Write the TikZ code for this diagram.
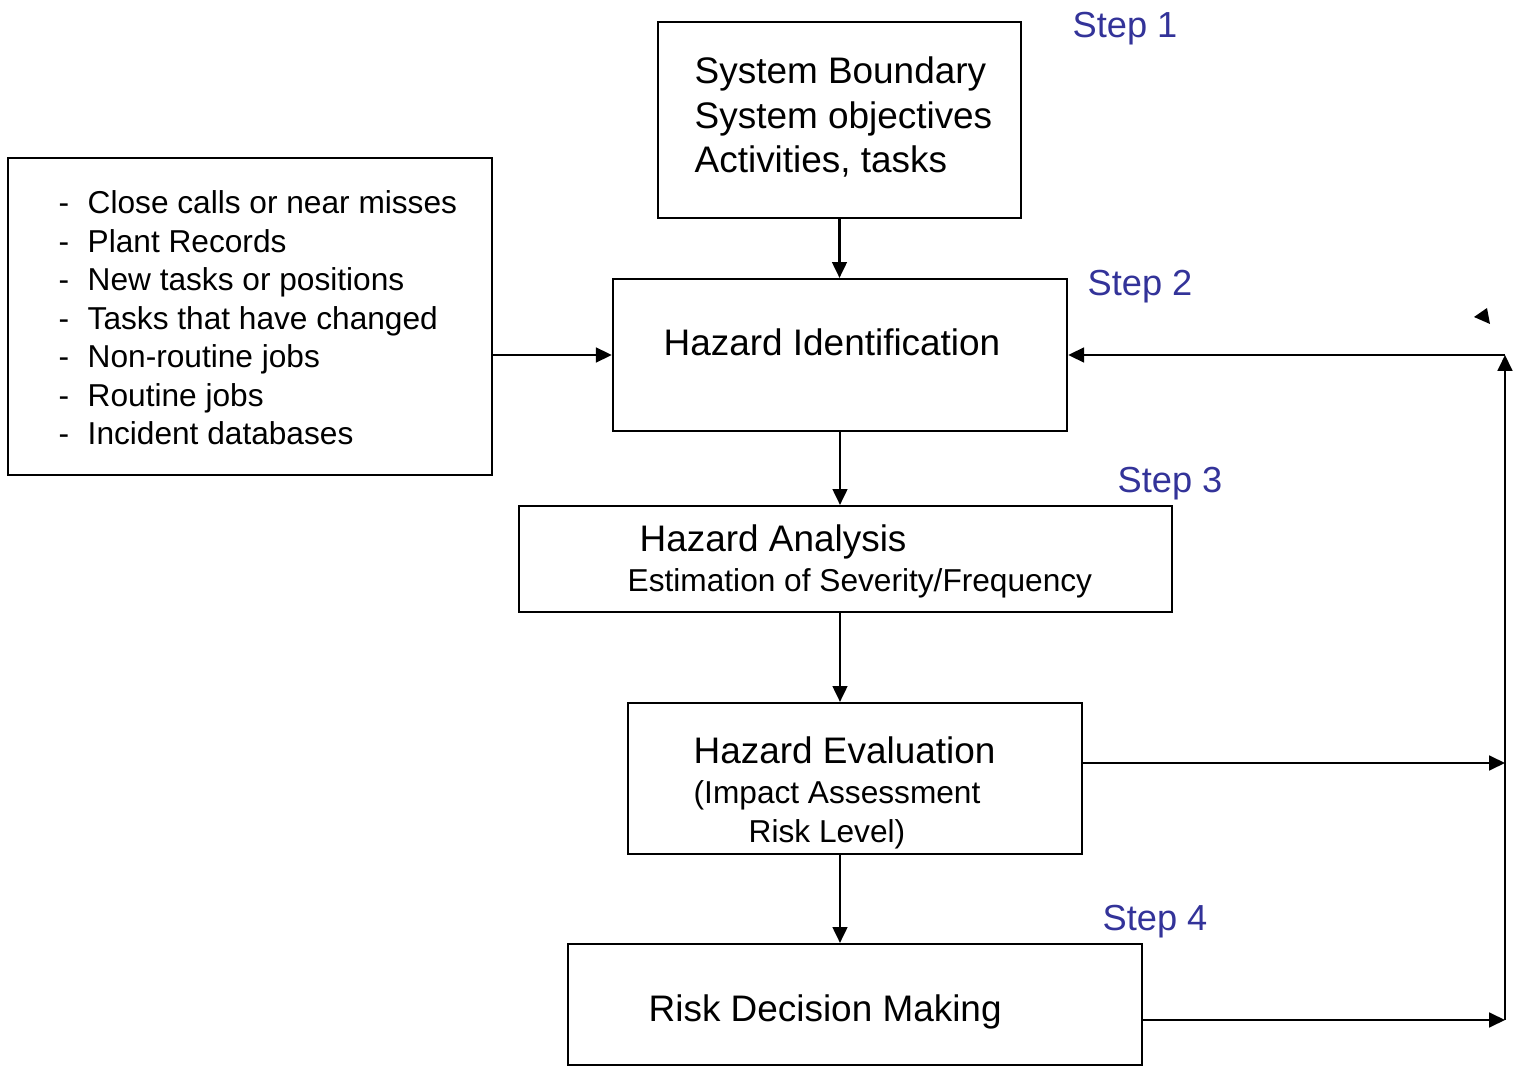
\documentclass[tikz,border=0pt]{standalone}
\usepackage{fontspec}
\setmainfont{Liberation Sans}
\usetikzlibrary{arrows.meta}

\definecolor{stepblue}{RGB}{51,51,153}

\newcommand*{\xMax}{1517}
\newcommand*{\yMax}{1073}
\newcommand*{\loopX}{1505}

\tikzset{
    box/.style={draw, line width=0.6pt, inner sep=0pt},
    big/.style={font=\fontsize{10.5}{12.6}\selectfont, inner sep=0pt, anchor=base west},
    small/.style={font=\fontsize{9}{10.9}\selectfont, inner sep=0pt, anchor=base west},
    steplabel/.style={font=\fontsize{10.3}{12}\selectfont, text=stepblue, inner sep=0pt, anchor=base west},
    arr/.style={line width=0.6pt, -{Triangle[length=4.5pt,width=4.2pt]}}
}

\begin{document}
\begin{tikzpicture}[x=0.01cm,y=-0.01cm]
    \useasboundingbox (0,0) rectangle (\xMax,\yMax);

    % boxes
    \node[box, minimum width=3.63cm, minimum height=1.96cm] (bound) at (839.5,120) {};
    \node[box, minimum width=4.54cm, minimum height=1.52cm] (hazid) at (840,355) {};
    \node[box, minimum width=4.84cm, minimum height=3.17cm] (srcs) at (250,316.5) {};
    \node[box, minimum width=6.53cm, minimum height=1.06cm] (ana) at (845.5,559) {};
    \node[box, minimum width=4.54cm, minimum height=1.51cm] (eval) at (855,778.5) {};
    \node[box, minimum width=5.74cm, minimum height=1.21cm] (dec) at (855,1004.5) {};

    % texts in the boxes
    \foreach \t [count=\i] in {System Boundary, System objectives, {Activities, tasks}} {
        \node[big] (bound\i) at (694,{84+44.5*(\i-1)}) {\t};
    }

    \node[big] (hazidtxt) at (663,356) {Hazard Identification};

    \node[big] (anatxt) at (639,552) {Hazard Analysis};
    \node[small] (anasub) at (627,592) {Estimation of Severity/Frequency};

    \node[big] (evaltxt) at (693,764) {Hazard Evaluation};
    \node[small] (evalsub1) at (693,804) {(Impact Assessment};
    \node[small] (evalsub2) at (748,842) {Risk Level)};

    \node[big] (dectxt) at (648,1021) {Risk Decision Making};

    \foreach \t [count=\i] in {Close calls or near misses, Plant Records, New tasks or positions,
        Tasks that have changed, Non-routine jobs, Routine jobs, Incident databases} {
        \node[small] (dash\i) at (58,{214+38.5*(\i-1)}) {-};
        \node[small] (item\i) at (87,{214+38.5*(\i-1)}) {\t};
    }

    % step labels
    \node[steplabel] (step1) at (1072,38) {Step 1};
    \node[steplabel] (step2) at (1087,296) {Step 2};
    \node[steplabel] (step3) at (1117,493) {Step 3};
    \node[steplabel] (step4) at (1102,930) {Step 4};

    % connectors
    \coordinate (ret) at (\loopX,355);
    \coordinate (evend) at (\loopX,763);
    \coordinate (decend) at (\loopX,1020);

    \draw[arr] (bound.south) -- (bound.south |- hazid.north);
    \draw[arr] (srcs.east |- hazid.west) -- (hazid.west);
    \draw[arr] (hazid.south) -- (hazid.south |- ana.north);
    \draw[arr] (hazid.south |- ana.south) -- (hazid.south |- eval.north);
    \draw[arr] (hazid.south |- eval.south) -- (hazid.south |- dec.north);
    \draw[arr] (eval.east |- evend) -- (evend);
    \draw[arr] (dec.east |- decend) -- (decend);
    \draw[arr] (decend) -- (ret);
    \draw[arr] (ret) -- (hazid.east);

    \fill (1474,317) -- (1487,308) -- (1490,324) -- cycle;

\end{tikzpicture}
\end{document}
